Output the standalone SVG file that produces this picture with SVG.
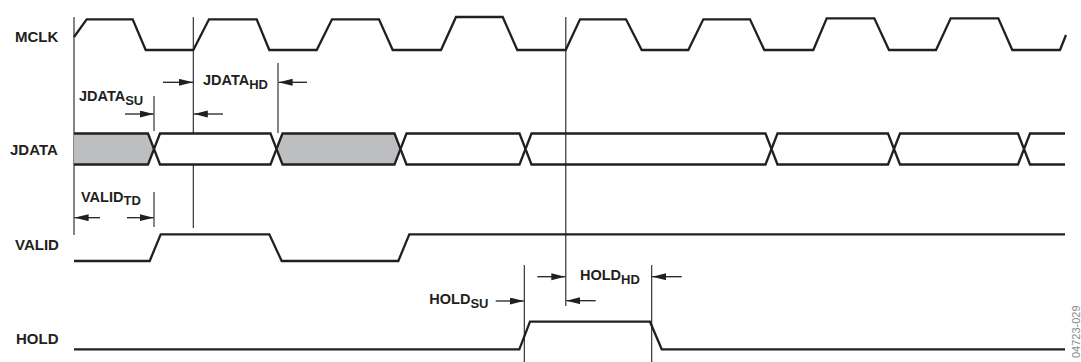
<svg xmlns="http://www.w3.org/2000/svg" width="1081" height="362" viewBox="0 0 1081 362">
<style>
.wave{fill:none;stroke:#231f20;stroke-width:2.3;stroke-linejoin:miter}
.box{stroke:#231f20;stroke-width:2.3;stroke-linejoin:miter}
.g{fill:#bcbec0}
.w{fill:#fff}
.ref{stroke:#231f20;stroke-width:1.1;fill:none}
.arr{stroke:#231f20;stroke-width:1.3;fill:none;marker-end:url(#ah)}
.lbl{font-family:"Liberation Sans",Arial,sans-serif;font-weight:bold;font-size:15px;fill:#231f20}
.ann{font-family:"Liberation Sans",Arial,sans-serif;font-weight:bold;font-size:14.5px;fill:#231f20}
.sub{font-size:13px}
.code{font-family:"Liberation Sans",Arial,sans-serif;font-size:11px;fill:#8a8a8a}
</style>
<defs>
<marker id="ah" markerUnits="userSpaceOnUse" markerWidth="14" markerHeight="8" refX="14" refY="3.5" orient="auto">
<path d="M0,0 L14,3.5 L0,7 z" fill="#231f20"/>
</marker>
</defs>
<rect width="1081" height="362" fill="#fff"/>

<g id="connectors">
<line class="ref" x1="74" y1="17" x2="74" y2="235"/>
<line class="ref" x1="154" y1="96" x2="154" y2="131"/>
<line class="ref" x1="154" y1="192" x2="154" y2="227"/>
<line class="ref" x1="193.3" y1="17" x2="193.3" y2="133"/>
<line class="ref" x1="193.3" y1="165" x2="193.3" y2="228"/>
<line class="ref" x1="278" y1="63" x2="278" y2="133"/>
<line class="ref" x1="565.8" y1="17" x2="565.8" y2="306"/>
<line class="ref" x1="524.3" y1="265" x2="524.3" y2="362"/>
<line class="ref" x1="651.7" y1="265" x2="651.7" y2="362"/>
<line class="arr" x1="163" y1="82.3" x2="193" y2="82.3"/>
<line class="arr" x1="307" y1="82.3" x2="278.6" y2="82.3"/>
<line class="arr" x1="125" y1="114" x2="153.6" y2="114"/>
<line class="arr" x1="223" y1="114" x2="193.8" y2="114"/>
<line class="arr" x1="100" y1="217.7" x2="74.6" y2="217.7"/>
<line class="arr" x1="127" y1="217.7" x2="153.6" y2="217.7"/>
<line class="arr" x1="495.7" y1="301" x2="523.8" y2="301"/>
<line class="arr" x1="537.3" y1="276.7" x2="565.3" y2="276.7"/>
<line class="arr" x1="681.7" y1="276.7" x2="652.2" y2="276.7"/>
<line class="arr" x1="595.7" y1="300.7" x2="566.3" y2="300.7"/>
</g>

<g id="mclk">
<text class="lbl" x="15" y="42.3">MCLK</text>
<path class="wave" d="M74,37 L86.7,19.3 L132.7,19.3 L145.7,50 L193.3,50 L209,19.3 L256.7,19.3 L269.3,50 L316.7,50 L332,19.3 L379,19.3 L392.7,50 L441,50 L456,17 L502.7,17 L517.3,50 L565.7,50 L580,19.3 L626,19.3 L641.7,50 L688.3,50 L703.3,19.3 L750,19.3 L764.3,50 L813.3,50 L826.7,18.3 L874.3,18.3 L889,50 L936,50 L950.7,18.3 L998.3,18.3 L1012.3,50 L1060,50 L1066,35"/>
</g>

<g id="jdata">
<text class="lbl" x="10" y="155">JDATA</text>
<path class="box g" d="M74,133.5 L148,133.5 L154,149 L148,164.5 L74,164.5"/>
<path class="box w" d="M154,149 L160,133.5 L270.5,133.5 L276.5,149 L270.5,164.5 L160,164.5 Z"/>
<path class="box g" d="M276.5,149 L282.5,133.5 L394.5,133.5 L400.5,149 L394.5,164.5 L282.5,164.5 Z"/>
<path class="box w" d="M400.5,149 L406.5,133.5 L519.5,133.5 L525.5,149 L519.5,164.5 L406.5,164.5 Z"/>
<path class="box w" d="M525.5,149 L531.5,133.5 L765.5,133.5 L771.5,149 L765.5,164.5 L531.5,164.5 Z"/>
<path class="box w" d="M771.5,149 L777.5,133.5 L888,133.5 L894,149 L888,164.5 L777.5,164.5 Z"/>
<path class="box w" d="M894,149 L900,133.5 L1018,133.5 L1024,149 L1018,164.5 L900,164.5 Z"/>
<path class="wave" d="M1065,133.5 L1030,133.5 L1024,149 L1030,164.5 L1065,164.5"/>
<line class="ref" x1="565.8" y1="133" x2="565.8" y2="165"/>
</g>

<g id="valid">
<text class="lbl" x="15" y="250">VALID</text>
<path class="wave" d="M74,261 L149.7,261 L160.7,234.3 L269.3,234.3 L281.7,261 L398.3,261 L409.3,234.3 L1065,234.3"/>
</g>

<g id="hold">
<text class="lbl" x="16" y="344.3">HOLD</text>
<path class="wave" d="M74,349.3 L519.3,349.3 L530,321.7 L650,321.7 L661.7,349.3 L1065,349.3"/>
</g>

<g id="labels">
<text class="ann" x="79" y="101">JDATA<tspan class="sub" dy="4">SU</tspan></text>
<text class="ann" x="203" y="85">JDATA<tspan class="sub" dy="4">HD</tspan></text>
<text class="ann" x="81" y="201.7">VALID<tspan class="sub" dy="3.5">TD</tspan></text>
<text class="ann" x="429.3" y="304.3">HOLD<tspan class="sub" dy="3.5">SU</tspan></text>
<text class="ann" x="580" y="280">HOLD<tspan class="sub" dy="3.5">HD</tspan></text>
<text class="code" transform="translate(1079.5,358) rotate(-90)">04723-029</text>
</g>
</svg>
